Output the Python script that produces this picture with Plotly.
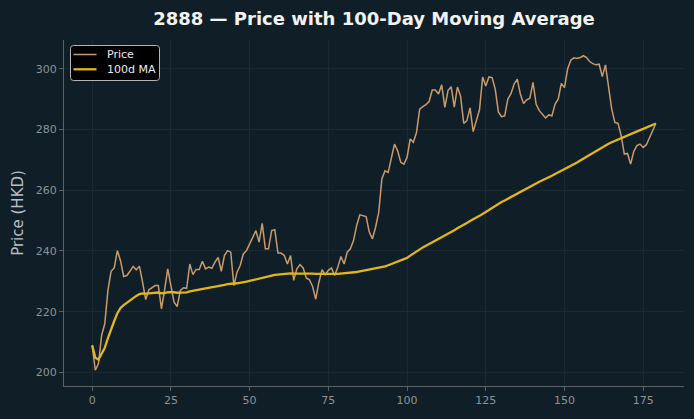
import plotly.graph_objects as go
import pandas as pd

days = list(range(180))
price = [
    208.9, 200.7, 202.9, 212.2, 216.0, 227.0, 233.3, 234.4, 240.1, 236.8,
    231.6, 231.9, 233.3, 234.9, 233.8, 235.0, 229.7, 224.0, 227.2, 227.9,
    228.6, 228.6, 220.9, 227.2, 234.1, 228.6, 223.1, 221.7, 227.0, 227.9,
    227.7, 235.7, 232.2, 233.9, 233.9, 236.6, 234.1, 234.7, 234.3, 236.3,
    237.9, 233.3, 238.5, 240.1, 239.6, 228.6, 233.0, 235.2, 239.0, 240.1,
    242.3, 244.7, 246.7, 242.9, 249.1, 240.7, 240.7, 246.7, 247.0, 239.3,
    239.3, 238.5, 235.7, 238.5, 230.3, 234.1, 235.5, 234.4, 231.1, 230.5,
    228.3, 224.1, 229.7, 233.8, 232.2, 233.6, 234.4, 231.9, 234.6, 238.2,
    235.7, 239.6, 240.7, 243.4, 248.4, 251.9, 251.5, 251.3, 246.2, 244.0,
    247.8, 252.7, 263.7, 266.4, 265.9, 270.3, 275.2, 273.0, 269.2, 268.6,
    270.8, 276.9, 275.8, 279.0, 286.7, 287.5, 288.2, 289.2, 293.0, 293.0,
    291.7, 294.7, 287.3, 292.8, 294.1, 287.4, 294.0, 291.0, 282.0, 282.9,
    287.1, 279.3, 282.9, 286.5, 297.3, 294.3, 297.3, 297.1, 293.3, 285.8,
    284.2, 284.5, 290.0, 291.8, 295.0, 296.6, 291.6, 288.6, 289.8, 290.3,
    295.5, 288.3, 286.2, 285.1, 283.8, 284.8, 284.5, 288.4, 290.0, 295.2,
    293.8, 300.0, 302.8, 303.6, 303.4, 303.7, 304.3, 303.7, 302.4, 301.7,
    301.3, 301.5, 297.4, 301.3, 294.0, 286.7, 282.3, 282.0, 278.0, 271.9,
    272.1, 268.6, 272.8, 274.7, 275.2, 274.1, 275.0, 277.4, 279.8, 282.0,
]
ma_window = 100
ma = pd.Series(price).rolling(ma_window, min_periods=1).mean().tolist()

title = "2888 — Price with 100-Day Moving Average"
y_title = "Price (HKD)"
x_ticks = [0, 25, 50, 75, 100, 125, 150, 175]
y_ticks = [200, 220, 240, 260, 280, 300]
series_names = ["Price", "100d MA"]
series_colors = ["#c89b6c", "#e2b51c"]
series_widths = [1.5, 2.3]

BG = "#101f27"
GRID = "#1b2a32"
AXIS = "#5a6266"
TICKTXT = "#8c9296"
FONT = "DejaVu Sans"

W, H = 694, 419
ML, MR, MT, MB = 64, 10, 40, 33
PW, PH = W - ML - MR, H - MT - MB

fig = go.Figure()
for name, ys, col, lw in zip(series_names, [price, ma], series_colors, series_widths):
    fig.add_trace(go.Scatter(x=days, y=ys, mode="lines", name=name,
                             line=dict(color=col, width=lw), showlegend=False))

xmin, xmax = min(days), max(days)
xpad = (xmax - xmin) * 0.05
allv = price + ma
ymin, ymax = min(allv), max(allv)
ypad = (ymax - ymin) * 0.05

# custom legend (pixel layout -> paper coords)
def px_x(px):
    return (px - ML) / PW

def px_y(py):
    return (H - MB - py) / PH

bx0, bx1, by0, by1 = px_x(70.5), px_x(159.5), px_y(80.5), px_y(45.5)
rx, ry = 3.0 / PW, 3.0 / PH
path = (f"M {bx0+rx},{by1} L {bx1-rx},{by1} Q {bx1},{by1} {bx1},{by1-ry} "
        f"L {bx1},{by0+ry} Q {bx1},{by0} {bx1-rx},{by0} "
        f"L {bx0+rx},{by0} Q {bx0},{by0} {bx0},{by0+ry} "
        f"L {bx0},{by1-ry} Q {bx0},{by1} {bx0+rx},{by1} Z")
shapes = [dict(type="path", xref="paper", yref="paper", path=path,
               fillcolor="#000000", line=dict(color="#b4b4b4", width=1))]
annotations = []
for k, (name, col, lw) in enumerate(zip(series_names, series_colors, series_widths)):
    yy = px_y(54.5 + k * 14.8)
    shapes.append(dict(type="line", xref="paper", yref="paper",
                       x0=px_x(73.5), x1=px_x(96.5), y0=yy, y1=yy,
                       line=dict(color=col, width=lw)))
    annotations.append(dict(xref="paper", yref="paper", x=px_x(104.5), y=yy,
                            text=name, showarrow=False, xanchor="left",
                            yanchor="middle",
                            font=dict(family=FONT, size=11, color="#ececec")))

fig.update_layout(
    width=W, height=H,
    paper_bgcolor=BG, plot_bgcolor=BG,
    margin=dict(l=ML, r=MR, t=MT, b=MB),
    font=dict(family=FONT, color=TICKTXT, size=11),
    title=dict(text="<b>" + title + "</b>", x=0.5, xref="paper",
               xanchor="center", y=0.955, yanchor="middle",
               font=dict(family=FONT, size=18, color="#f2f2f2")),
    showlegend=False,
    shapes=shapes,
    annotations=annotations,
)
fig.update_xaxes(range=[xmin - xpad, xmax + xpad], tickvals=x_ticks,
                 showgrid=True, gridcolor=GRID, gridwidth=1, zeroline=False,
                 showline=True, linecolor=AXIS, linewidth=1,
                 ticks="outside", ticklen=4, tickcolor=AXIS,
                 tickfont=dict(family=FONT, size=11, color=TICKTXT))
fig.update_yaxes(range=[ymin - ypad, ymax + ypad], tickvals=y_ticks,
                 showgrid=True, gridcolor=GRID, gridwidth=1, zeroline=False,
                 showline=True, linecolor=AXIS, linewidth=1,
                 ticks="outside", ticklen=4, tickcolor=AXIS,
                 tickfont=dict(family=FONT, size=11, color=TICKTXT),
                 title=dict(text=y_title, standoff=8,
                            font=dict(family=FONT, size=15, color="#b9bec2")))

fig.write_html("out.html")
